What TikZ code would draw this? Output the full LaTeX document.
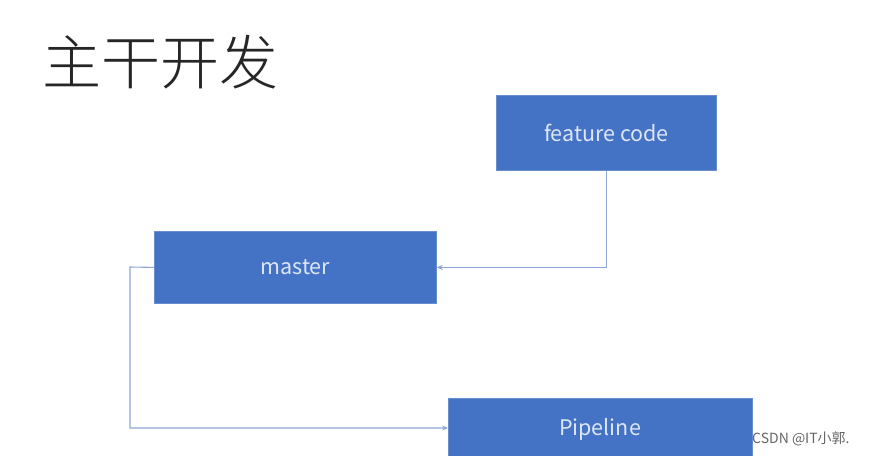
\documentclass[tikz,border=0pt]{standalone}
\usepackage{fontspec}
\setmainfont{Noto Sans}
\newfontfamily\cjk{Noto Sans CJK SC}
\newfontfamily\cjklight{Noto Sans CJK SC Light}
\usetikzlibrary{arrows.meta}
\definecolor{boxblue}{HTML}{4472C4}
\definecolor{linecol}{HTML}{8FA6D6}
\definecolor{boxtext}{HTML}{DDE6F4}
\begin{document}
\begin{tikzpicture}[x=1pt,y=-1pt,
  bluebox/.style={draw=boxblue!80!white, line width=0.8pt, fill=boxblue, text=boxtext, font=\fontsize{21.5}{23}\selectfont\cjk, anchor=north west, inner sep=0pt},
  conn/.style={draw=linecol, line width=1.1pt, -{Stealth[length=6pt,width=5pt]}}]
\useasboundingbox[fill=white] (0,0) rectangle (869,455);
\clip (0,0) rectangle (869,455);
\node[anchor=west, inner sep=0pt, font=\fontsize{59}{62}\selectfont\cjklight, text=black!85] (title) at (42,62) {主干开发};
\node[bluebox, minimum width=220pt, minimum height=75pt] (feat) at (496,95) {feature code};
\node[bluebox, minimum width=282pt, minimum height=72pt] (master) at (154,231) {master};
\node[bluebox, minimum width=304pt, minimum height=62pt] (pipe) at (448,398) {};
\node[text=boxtext, font=\fontsize{21.5}{23}\selectfont\cjk] (pipetext) at (600,429) {Pipeline};
\coordinate (c1) at (130,267);
\coordinate (c2) at (130,428);
\draw[conn] (feat.south) |- (master.east);
\draw[conn] (master.west) -- (c1) -- (c2) -- (c2 -| pipe.west);
\node[anchor=west, inner sep=0pt, text=black!60, font=\fontsize{14}{16}\selectfont\cjk] (wm) at (752,439) {CSDN @IT小郭.};
\end{tikzpicture}
\end{document}
